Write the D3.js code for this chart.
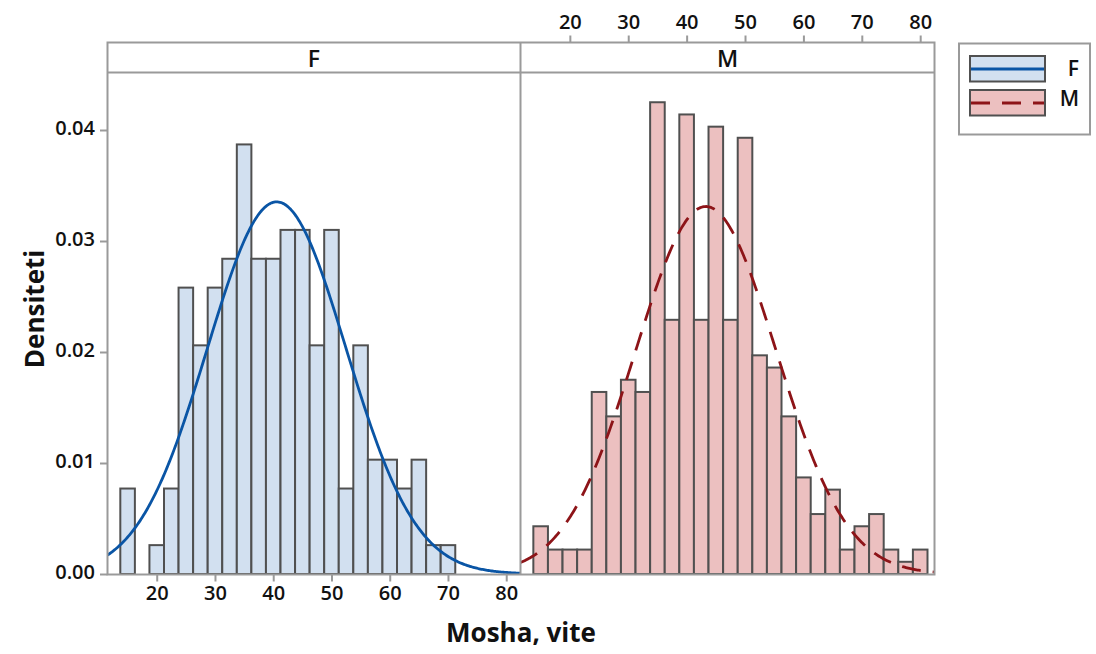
<!DOCTYPE html>
<html>
<head>
<meta charset="utf-8">
<script src="https://cdn.jsdelivr.net/npm/d3@7"></script>
<style>
  body { margin: 0; background: #fff; }
  text { font-family: "Open Sans", sans-serif; font-weight: 600; fill: #111; }
</style>
</head>
<body>
<svg id="chart" width="1096" height="654"></svg>
<script>
// Histogram bins (midpoints, width 2.5 years)
const binMidpoints = [15, 17.5, 20, 22.5, 25, 27.5, 30, 32.5, 35, 37.5, 40, 42.5, 45, 47.5,
                      50, 52.5, 55, 57.5, 60, 62.5, 65, 67.5, 70, 72.5, 75, 77.5, 80];
const binWidth = 2.5;

// Density per bin, women
const densityF = [0.0077, 0, 0.0026, 0.0077, 0.0258, 0.0206, 0.0258, 0.0284, 0.0387, 0.0284,
                  0.0284, 0.0310, 0.0310, 0.0206, 0.0310, 0.0077, 0.0206, 0.0103, 0.0103, 0.0077,
                  0.0103, 0.0026, 0.0026, 0, 0, 0, 0];
// Density per bin, men
const densityM = [0.0043, 0.0022, 0.0022, 0.0022, 0.0164, 0.0142, 0.0175, 0.0164, 0.0425, 0.0229,
                  0.0414, 0.0229, 0.0403, 0.0229, 0.0393, 0.0197, 0.0186, 0.0142, 0.0087, 0.0054,
                  0.0076, 0.0022, 0.0043, 0.0054, 0.0022, 0.0011, 0.0022];

// Fitted normal distributions
const fitMeans = [40.6, 43.3];
const fitSds = [11.9, 12.05];

const panelNames = ["F", "M"];
const xTicks = [20, 30, 40, 50, 60, 70, 80];
const yTicks = [0, 0.01, 0.02, 0.03, 0.04];
const xTitle = "Mosha, vite";
const yTitle = "Densiteti";

const fills = ["#d2e0f0", "#ecc0c0"];
const lineColors = ["#0a55a5", "#8d1418"];
const dashes = [null, "19,12"];

const svg = d3.select("#chart");
const frameColor = "#9a9a9a";
const barStroke = "#505050";

const frameTop = 42.5, stripBottom = 72.5, frameBottom = 574.5;
const panelX = [[107.5, 520.5], [520.5, 934.5]];
const xDomain = [11.55, 82.45];

const y = d3.scaleLinear().domain([0, 0.04]).range([574, 130]);

const panels = [densityF, densityM];

function styleAxis(ax) {
  ax.select(".domain").remove();
  ax.selectAll(".tick line").attr("stroke", frameColor).attr("stroke-width", 2);
  ax.selectAll("text")
    .style("font-family", '"Open Sans", sans-serif')
    .style("font-weight", 600)
    .style("font-size", "20px")
    .attr("fill", "#111");
}

panels.forEach((dens, i) => {
  const x = d3.scaleLinear().domain(xDomain).range(panelX[i]);
  const g = svg.append("g");

  const clipId = "clip" + i;
  svg.append("clipPath").attr("id", clipId)
    .append("rect")
    .attr("x", panelX[i][0]).attr("y", stripBottom)
    .attr("width", panelX[i][1] - panelX[i][0]).attr("height", frameBottom - stripBottom);

  const bins = binMidpoints.map((m, k) => ({ m, d: dens[k] }));

  g.append("g").attr("clip-path", `url(#${clipId})`)
    .selectAll("rect")
    .data(bins)
    .join("rect")
    .attr("x", b => x(b.m - binWidth / 2))
    .attr("width", b => x(b.m + binWidth / 2) - x(b.m - binWidth / 2))
    .attr("y", b => y(b.d))
    .attr("height", b => y(0) - y(b.d))
    .attr("fill", fills[i])
    .attr("stroke", barStroke)
    .attr("stroke-width", 2);

  // fitted normal curve
  const mu = fitMeans[i], sd = fitSds[i];
  const pdf = v => Math.exp(-0.5 * ((v - mu) / sd) ** 2) / (sd * Math.sqrt(2 * Math.PI));
  const xs = d3.range(xDomain[0], xDomain[1] + 0.001, 0.2);
  const line = d3.line().x(v => x(v)).y(v => y(pdf(v)));
  const path = g.append("path")
    .attr("clip-path", `url(#${clipId})`)
    .attr("d", line(xs))
    .attr("fill", "none")
    .attr("stroke", lineColors[i])
    .attr("stroke-width", 2.8);
  if (dashes[i]) path.attr("stroke-dasharray", dashes[i]);

  // strip label
  svg.append("text")
    .attr("x", (panelX[i][0] + panelX[i][1]) / 2)
    .attr("y", 66.5)
    .attr("text-anchor", "middle")
    .style("font-size", "23px")
    .style("font-weight", 600)
    .text(panelNames[i]);

  // x axes: bottom for first panel, top for second
  if (i === 0) {
    const ax = svg.append("g").attr("transform", `translate(0,${frameBottom})`)
      .call(d3.axisBottom(x).tickValues(xTicks).tickSize(7).tickPadding(4));
    styleAxis(ax);
  } else {
    const ax = svg.append("g").attr("transform", `translate(0,${frameTop})`)
      .call(d3.axisTop(x).tickValues(xTicks).tickSize(7).tickPadding(7));
    styleAxis(ax);
  }
});

// y axis
const yAx = svg.append("g").attr("transform", `translate(${panelX[0][0]},0)`)
  .call(d3.axisLeft(y).tickValues(yTicks).tickFormat(d3.format(".2f")).tickSize(7.5).tickPadding(5));
styleAxis(yAx);
yAx.selectAll("text").attr("dy", "0.2em");

// panel frames and strips
const frame = svg.append("g").attr("fill", "none").attr("stroke", frameColor).attr("stroke-width", 2);
frame.append("rect")
  .attr("x", panelX[0][0]).attr("y", frameTop)
  .attr("width", panelX[1][1] - panelX[0][0]).attr("height", frameBottom - frameTop);
frame.append("line")
  .attr("x1", panelX[0][0]).attr("x2", panelX[1][1])
  .attr("y1", stripBottom).attr("y2", stripBottom);
frame.append("line")
  .attr("x1", panelX[0][1]).attr("x2", panelX[0][1])
  .attr("y1", frameTop).attr("y2", frameBottom);

// axis titles
svg.append("text")
  .attr("x", (panelX[0][0] + panelX[1][1]) / 2)
  .attr("y", 642)
  .attr("text-anchor", "middle")
  .style("font-size", "26px")
  .style("font-weight", 700)
  .text(xTitle);

svg.append("text")
  .attr("transform", "translate(44,309) rotate(-90)")
  .attr("text-anchor", "middle")
  .style("font-size", "26px")
  .style("font-weight", 700)
  .text(yTitle);

// legend
const lg = svg.append("g");
lg.append("rect")
  .attr("x", 959).attr("y", 43.5).attr("width", 131).attr("height", 91)
  .attr("fill", "#fff").attr("stroke", frameColor).attr("stroke-width", 2);

const swatchY = [56, 90];
const labelY = [75.5, 105.5];
panelNames.forEach((name, i) => {
  lg.append("rect")
    .attr("x", 970).attr("y", swatchY[i]).attr("width", 75).attr("height", 25.5)
    .attr("fill", fills[i]).attr("stroke", barStroke).attr("stroke-width", 2);
  const l = lg.append("line")
    .attr("x1", 971).attr("x2", 1044)
    .attr("y1", swatchY[i] + 13).attr("y2", swatchY[i] + 13)
    .attr("stroke", lineColors[i]).attr("stroke-width", 3);
  if (dashes[i]) l.attr("stroke-dasharray", "19,12");
  lg.append("text")
    .attr("x", 1079).attr("y", labelY[i])
    .attr("text-anchor", "end")
    .style("font-size", "21px")
    .style("font-weight", 600)
    .text(name);
});
</script>
</body>
</html>
